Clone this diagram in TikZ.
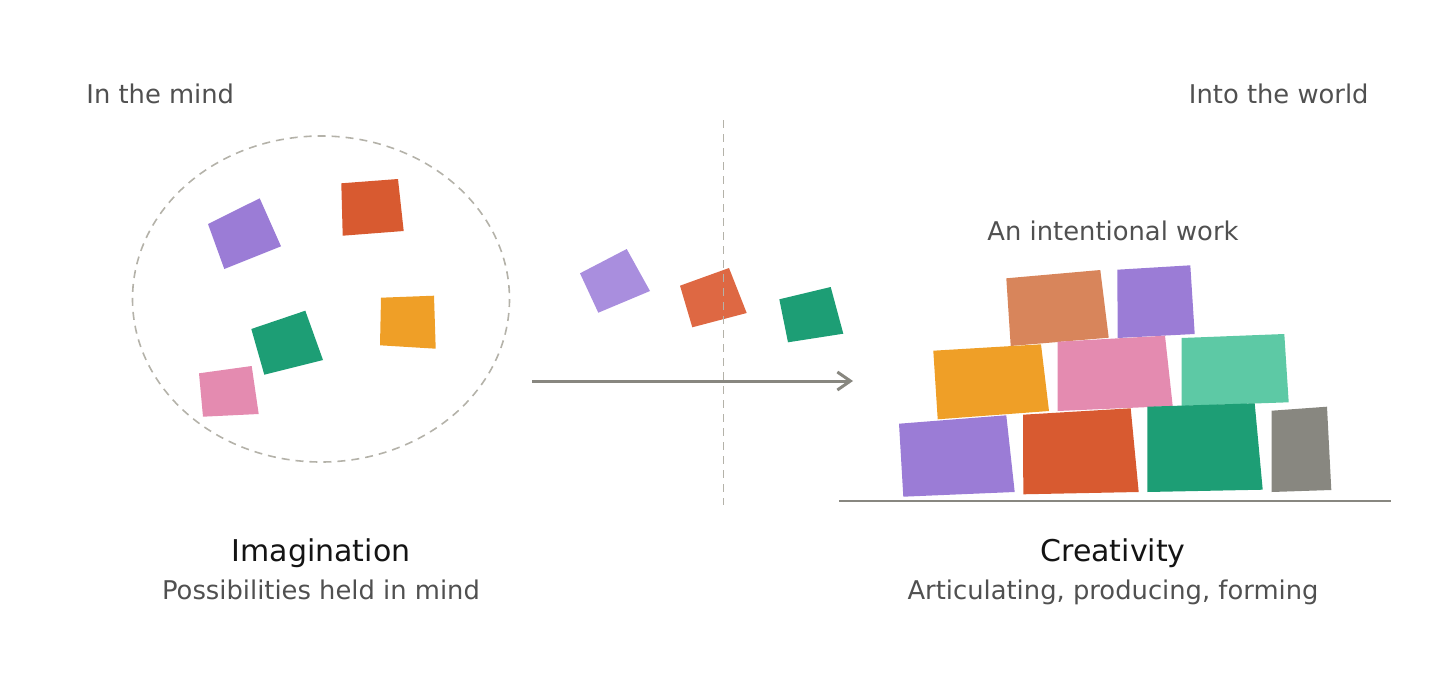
\documentclass[tikz,border=0pt]{standalone}
\usepackage{fontspec}
\setmainfont{DejaVu Sans}
\usetikzlibrary{arrows.meta}

\definecolor{morado}{HTML}{9B7CD6}
\definecolor{moradoclaro}{HTML}{A98EDE}
\definecolor{rojo}{HTML}{D85A30}
\definecolor{rojoclaro}{HTML}{DE6843}
\definecolor{naranja}{HTML}{EF9F27}
\definecolor{verde}{HTML}{1D9E75}
\definecolor{menta}{HTML}{5DC9A5}
\definecolor{rosa}{HTML}{E48BB0}
\definecolor{teja}{HTML}{D8855B}
\definecolor{gris}{HTML}{888780}
\definecolor{grisclaro}{HTML}{B4B2A9}
\definecolor{texto}{HTML}{505050}

\tikzset{
  etiqueta/.style={text=texto, font=\fontsize{12.9pt}{15pt}\selectfont, inner sep=0pt},
  titulo/.style={text=black!92, font=\fontsize{15pt}{18pt}\selectfont, inner sep=0pt},
  guia/.style={grisclaro, line width=0.8pt, dash pattern=on 4pt off 3pt},
}

\begin{document}
\begin{tikzpicture}[x=0.5pt, y=-0.5pt]
    \useasboundingbox (0,0) rectangle (1456,685);

    % Encabezados
    \node[etiqueta, anchor=base west] (mente) at (86,103) {In the mind};
    \node[etiqueta, anchor=base east] (mundo) at (1369,103) {Into the world};

    % Elipse de la imaginación
    \draw[guia] (321,299) ellipse [x radius=188.5, y radius=163];

    % Piezas sueltas
    \fill[morado] (208,224) -- (259.7,198.3) -- (281,246.3) -- (224.3,269) -- cycle;
    \fill[rojo] (341.3,183.3) -- (398,179) -- (403.7,231) -- (342.7,235.7) -- cycle;
    \fill[naranja] (381,297.7) -- (434,295.7) -- (435.7,348.7) -- (380,345.3) -- cycle;
    \fill[verde] (251.3,329) -- (305.3,310.7) -- (323,360) -- (264.3,374.7) -- cycle;
    \fill[rosa] (199,373.3) -- (251.7,366) -- (258.7,414) -- (203,416.7) -- cycle;

    % Piezas en camino
    \fill[moradoclaro] (580,273.3) -- (626.7,249) -- (650,291) -- (598.3,312.7) -- cycle;
    \fill[rojoclaro] (680,285.7) -- (729,268) -- (746.7,313) -- (692.3,327.3) -- cycle;
    \fill[verde] (779.3,299.3) -- (830.7,287) -- (843.3,333.7) -- (788,342.3) -- cycle;

    % Frontera
    \coordinate (fronteraA) at (723.5,120);
    \coordinate (fronteraB) at (723.5,505);
    \draw[guia] (fronteraA) -- (fronteraB);

    % Flecha
    \coordinate (inicio) at (532,381);
    \coordinate (fin) at (853,381);
    \draw[gris, line width=1.5pt, -{Straight Barb[length=6.5pt, width=9pt]}] (inicio) -- (fin);

    % Obra intencional
    \node[etiqueta, anchor=base] (obra) at (1113,240) {An intentional work};
    \fill[teja] (1006.3,278.3) -- (1100.3,270) -- (1108.7,337.7) -- (1010.7,346) -- cycle;
    \fill[morado] (1117.3,269.7) -- (1190.3,265.3) -- (1194.7,334) -- (1117.7,338) -- cycle;
    \fill[naranja] (933.3,350.7) -- (1041,344.3) -- (1049,411) -- (937.7,419.3) -- cycle;
    \fill[rosa] (1057.7,341.7) -- (1165,335.7) -- (1172.7,406) -- (1057.7,411) -- cycle;
    \fill[menta] (1181.7,338) -- (1284.3,334) -- (1288.7,402.3) -- (1181.7,406) -- cycle;
    \fill[morado] (899,423.7) -- (1006.3,415.3) -- (1014.7,492) -- (903.3,496.7) -- cycle;
    \fill[rojo] (1023,414.7) -- (1130.7,408.3) -- (1138.7,492) -- (1023.3,494.3) -- cycle;
    \fill[verde] (1147.3,406.7) -- (1254.7,403.3) -- (1262.7,489.7) -- (1147.3,492) -- cycle;
    \fill[gris] (1271.7,410.7) -- (1327,406.7) -- (1331.3,490) -- (1271.7,492) -- cycle;

    % Suelo
    \coordinate (sueloA) at (839,500.5);
    \coordinate (sueloB) at (1391,500.5);
    \draw[gris, line width=1pt] (sueloA) -- (sueloB);

    % Títulos
    \node[titulo, anchor=base] (imaginacion) at (321,561.5) {Imagination};
    \node[etiqueta, anchor=base] (posibles) at (321,599) {Possibilities held in mind};
    \node[titulo, anchor=base] (creatividad) at (1113,561.5) {Creativity};
    \node[etiqueta, anchor=base] (formar) at (1113,599) {Articulating, producing, forming};
\end{tikzpicture}
\end{document}
